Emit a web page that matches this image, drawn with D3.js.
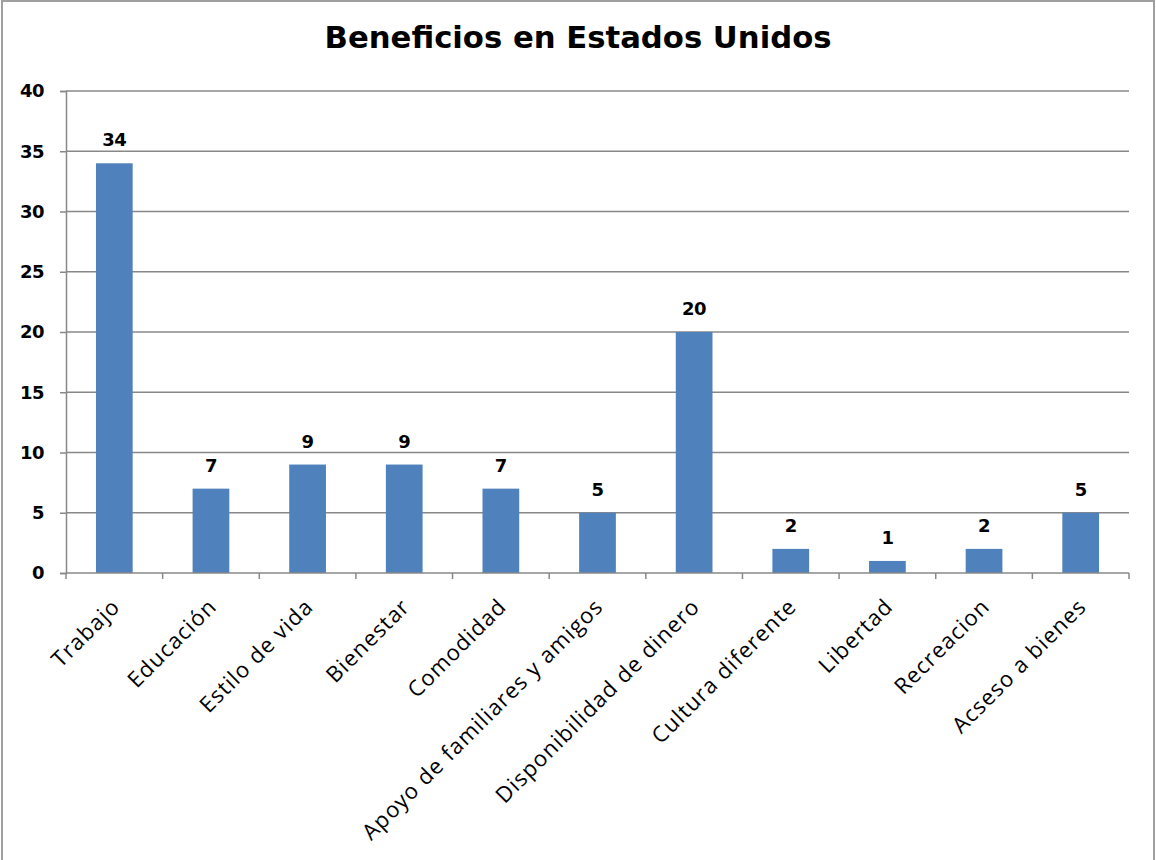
<!DOCTYPE html>
<html>
<head>
<meta charset="utf-8">
<script src="https://cdn.jsdelivr.net/npm/d3@7"></script>
<style>
  body { margin: 0; background: #fff; }
  svg { display: block; }
</style>
</head>
<body>
<svg id="chart" width="1156" height="860"></svg>
<script>
// data
const categories = ["Trabajo", "Educación", "Estilo de vida", "Bienestar", "Comodidad",
    "Apoyo de familiares y amigos", "Disponibilidad de dinero", "Cultura diferente",
    "Libertad", "Recreacion", "Acseso a bienes"];
const values = [34, 7, 9, 9, 7, 5, 20, 2, 1, 2, 5];
const yTicks = [0, 5, 10, 15, 20, 25, 30, 35, 40];
const title = "Beneficios en Estados Unidos";

const svg = d3.select("#chart");
const margin = { left: 66, right: 1129, top: 91, bottom: 573 };

// outer frame
svg.append("rect")
    .attr("x", 2).attr("y", 1)
    .attr("width", 1152).attr("height", 870)
    .attr("fill", "#fff")
    .attr("stroke", "#a0a0a0")
    .attr("stroke-width", 2);

const x = d3.scaleBand()
    .domain(categories)
    .range([margin.left, margin.right])
    .paddingInner(0.62)
    .paddingOuter(0.31);

const y = d3.scaleLinear()
    .domain([0, 40])
    .range([margin.bottom, margin.top]);

// gridlines
svg.append("g")
    .selectAll("line")
    .data(yTicks.filter(d => d > 0))
    .enter()
    .append("line")
    .attr("x1", margin.left).attr("x2", margin.right)
    .attr("y1", d => y(d)).attr("y2", d => y(d))
    .attr("stroke", "#888")
    .attr("stroke-width", 1.5);

// y axis
const yAxis = svg.append("g")
    .attr("transform", `translate(${margin.left},0)`)
    .call(d3.axisLeft(y).tickValues(yTicks).tickSize(6).tickPadding(16));
yAxis.select(".domain").attr("stroke", "#888").attr("stroke-width", 1.5);
yAxis.selectAll(".tick line").attr("stroke", "#888").attr("stroke-width", 1.5);
yAxis.selectAll("text")
    .attr("font-family", "DejaVu Sans, Verdana, sans-serif")
    .attr("font-weight", "bold")
    .attr("font-size", 18)
    .attr("letter-spacing", -0.5)
    .attr("fill", "#000");

// bars
svg.append("g")
    .selectAll("rect")
    .data(values)
    .enter()
    .append("rect")
    .attr("x", (d, i) => x(categories[i]))
    .attr("width", x.bandwidth())
    .attr("y", d => y(d))
    .attr("height", d => y(0) - y(d))
    .attr("fill", "#4f81bd");

// x axis
const step = x.step();
const xAxis = svg.append("g");
xAxis.append("line")
    .attr("x1", margin.left).attr("x2", margin.right)
    .attr("y1", y(0)).attr("y2", y(0))
    .attr("stroke", "#888").attr("stroke-width", 1.5);
xAxis.selectAll(".tk")
    .data(d3.range(categories.length + 1))
    .enter()
    .append("line")
    .attr("x1", i => margin.left + i * step)
    .attr("x2", i => margin.left + i * step)
    .attr("y1", y(0)).attr("y2", y(0) + 6)
    .attr("stroke", "#888").attr("stroke-width", 1.5);

// value labels
svg.append("g")
    .selectAll("text")
    .data(values)
    .enter()
    .append("text")
    .attr("x", (d, i) => x(categories[i]) + x.bandwidth() / 2)
    .attr("y", d => y(d) - 17)
    .attr("text-anchor", "middle")
    .attr("font-family", "DejaVu Sans, Verdana, sans-serif")
    .attr("font-weight", "bold")
    .attr("font-size", 18)
    .attr("letter-spacing", -0.5)
    .text(d => d);

// category labels, rotated
svg.append("g")
    .selectAll("text")
    .data(categories)
    .enter()
    .append("text")
    .attr("transform", d => {
        const cx = x(d) + x.bandwidth() / 2 + 7;
        return `translate(${cx},${y(0) + 35}) rotate(-45)`;
    })
    .attr("text-anchor", "end")
    .attr("font-family", "Open Sans, sans-serif")
    .attr("font-size", 22)
    .attr("letter-spacing", 1.1)
    .attr("fill", "#000")
    .text(d => d);

// title
svg.append("text")
    .attr("x", 578)
    .attr("y", 48)
    .attr("text-anchor", "middle")
    .attr("font-family", "DejaVu Sans, Verdana, sans-serif")
    .attr("font-weight", "bold")
    .attr("font-size", 30)
    .attr("textLength", 507)
    .attr("lengthAdjust", "spacingAndGlyphs")
    .text(title);
</script>
</body>
</html>
